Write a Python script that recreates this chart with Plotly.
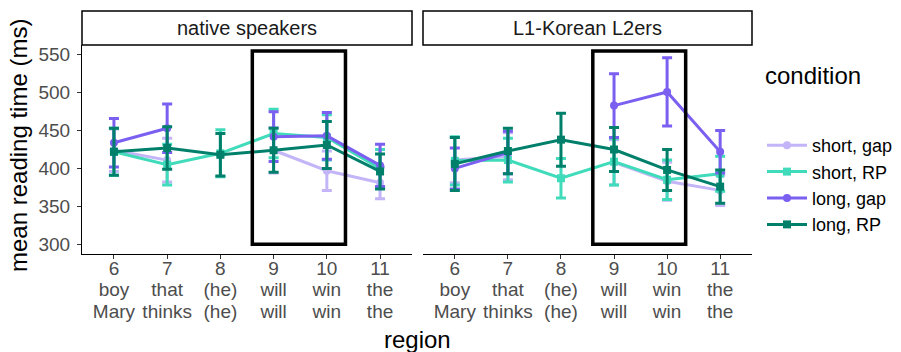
import plotly.graph_objects as go

regions = [6, 7, 8, 9, 10, 11]
tick_lines = [["6", "boy", "Mary"], ["7", "that", "thinks"], ["8", "(he)", "(he)"],
              ["9", "will", "will"], ["10", "win", "win"], ["11", "the", "the"]]
conditions = ["short, gap", "short, RP", "long, gap", "long, RP"]
colors = {"short, gap": "#C3B5F7", "short, RP": "#40DBBA",
          "long, gap": "#7B5FF0", "long, RP": "#00806B"}
symbols = {"short, gap": "circle", "short, RP": "square",
           "long, gap": "circle", "long, RP": "square"}

# native speakers
native_mean = {
    "short, gap": [424, 411, None, 424, 397, 381],
    "short, RP": [422, 405, 420, 446, 441, 400],
    "long, gap": [434, 453, None, 442, 443, 404],
    "long, RP": [422, 427, 418, 424, 431, 396],
}
native_se = {
    "short, gap": [28, 29, 0, 30, 26, 21],
    "short, RP": [31, 27, 31, 32, 30, 25],
    "long, gap": [32, 32, 0, 33, 31, 28],
    "long, RP": [31, 28, 28, 29, 31, 23],
}
# L1-Korean L2ers
l2_mean = {
    "short, gap": [411, 416, None, 408, 383, 371],
    "short, RP": [410, 411, 387, 409, 385, 393],
    "long, gap": [400, 421, None, 483, 501, 422],
    "long, RP": [406, 423, 438, 425, 398, 376],
}
l2_se = {
    "short, gap": [30, 31, 0, 30, 25, 20],
    "short, RP": [32, 29, 26, 31, 26, 23],
    "long, gap": [27, 28, 0, 42, 45, 28],
    "long, RP": [35, 30, 35, 29, 27, 22],
}
panels = ["native speakers", "L1-Korean L2ers"]
box_x = [8.6, 10.35]
box_y = [300, 555]

W, H = 901, 352
fig = go.Figure()

for pi, (means, ses) in enumerate([(native_mean, native_se), (l2_mean, l2_se)]):
    xa = "x" if pi == 0 else "x2"
    for c in conditions:
        fig.add_trace(go.Scatter(
            x=regions, y=means[c], xaxis=xa, yaxis="y",
            mode="lines+markers", name=c, legendgroup=c, showlegend=(pi == 0),
            line=dict(color=colors[c], width=3),
            marker=dict(color=colors[c], symbol=symbols[c], size=8),
            error_y=dict(type="data", array=ses[c], visible=True,
                         color=colors[c], thickness=3, width=5),
        ))

px = lambda v: v / W
py = lambda v: 1 - v / H

dom1 = [px(82), px(412)]
dom2 = [px(423), px(752)]
ydom = [py(254), py(45)]

FONT = "Liberation Sans, Arial"
# larger glyphs with tighter line spacing (line spacing follows tickfont size)
tick_text = ["<br>".join('<span style="font-size:19px">%s</span>' % s for s in lines)
             for lines in tick_lines]
axis_common = dict(range=[5.4, 11.6], tickmode="array", tickvals=regions, ticktext=tick_text,
                   showline=True, linecolor="black", linewidth=1, ticks="outside",
                   ticklen=4, tickcolor="#333333", showgrid=False, zeroline=False,
                   automargin=False, ticklabelstandoff=-4,
                   tickfont=dict(family=FONT, size=16.5, color="#4D4D4D"))
fig.update_layout(
    width=W, height=H,
    margin=dict(l=0, r=0, t=0, b=0),
    paper_bgcolor="white", plot_bgcolor="white",
    xaxis=dict(domain=dom1, anchor="y", **axis_common),
    xaxis2=dict(domain=dom2, anchor="y", **axis_common),
    yaxis=dict(domain=ydom, range=[287, 563], tickvals=[300, 350, 400, 450, 500, 550],
               showline=True, linecolor="black", linewidth=1, ticks="outside", ticklen=4,
               tickcolor="#333333", showgrid=False, zeroline=False, automargin=False,
               ticklabelstandoff=3,
               tickfont=dict(family=FONT, size=19, color="#4D4D4D")),
    legend=dict(x=px(762), y=py(127), xanchor="left", yanchor="top",
                font=dict(family=FONT, size=18, color="black"),
                itemwidth=40, tracegroupgap=0),
    font=dict(family=FONT),
)

shapes = []
annotations = []
for pi, dom in enumerate([dom1, dom2]):
    xa = "x" if pi == 0 else "x2"
    shapes.append(dict(type="rect", xref="paper", yref="paper", x0=dom[0], x1=dom[1],
                       y0=py(45), y1=py(11), line=dict(color="black", width=1.5),
                       fillcolor="white", layer="below"))
    annotations.append(dict(text=panels[pi], xref="paper", yref="paper",
                            x=(dom[0] + dom[1]) / 2, y=py(28), xanchor="center",
                            yanchor="middle", showarrow=False,
                            font=dict(size=20, color="#1A1A1A")))
    shapes.append(dict(type="rect", xref=xa, yref="y", x0=box_x[0], x1=box_x[1],
                       y0=box_y[0], y1=box_y[1], line=dict(color="black", width=3.5),
                       fillcolor="rgba(0,0,0,0)", layer="above"))

annotations.append(dict(text="condition", xref="paper", yref="paper",
                        x=px(763), y=py(75), xanchor="left", yanchor="middle",
                        showarrow=False, font=dict(size=24, color="black")))
annotations.append(dict(text="mean reading time (ms)", xref="paper", yref="paper",
                        x=px(18), y=py(146), xanchor="center", yanchor="middle",
                        textangle=-90, showarrow=False,
                        font=dict(size=24, color="black")))
annotations.append(dict(text="region", xref="paper", yref="paper",
                        x=px(417), y=py(339), xanchor="center", yanchor="middle",
                        showarrow=False, font=dict(size=24, color="black")))
fig.update_layout(shapes=shapes, annotations=annotations)

fig.write_html("out.html", config={"displayModeBar": False},
               post_script="document.body.style.margin='0px';document.body.style.overflow='hidden';")
